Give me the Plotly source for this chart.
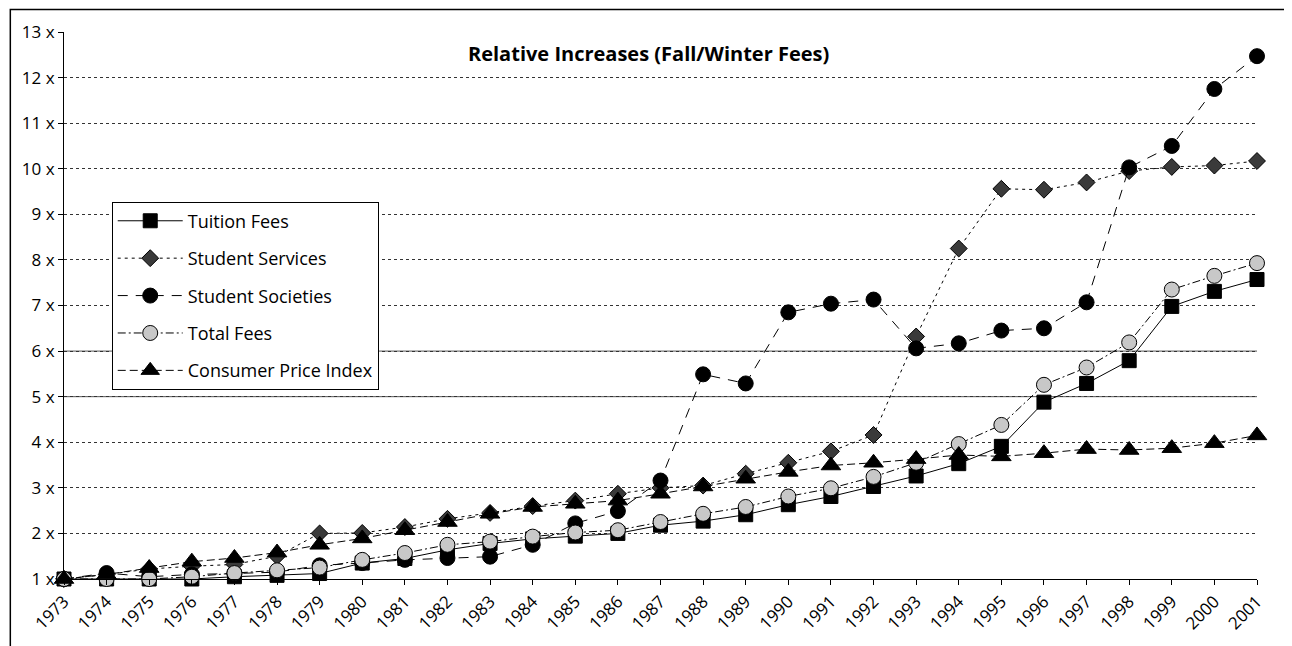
import plotly.graph_objects as go

years = list(range(1973, 2002))

tuition_fees = [1.00, 1.00, 1.00, 1.00, 1.05, 1.08, 1.12, 1.35, 1.45, 1.64,
                1.78, 1.88, 1.94, 2.00, 2.18, 2.27, 2.41, 2.63, 2.81, 3.03,
                3.26, 3.53, 3.91, 4.88, 5.29, 5.79, 6.98, 7.31, 7.57]
student_services = [1.00, 1.10, 1.22, 1.28, 1.32, 1.50, 2.00, 2.01, 2.14, 2.32,
                    2.45, 2.60, 2.72, 2.87, 3.00, 3.05, 3.31, 3.55, 3.80, 4.16,
                    6.32, 8.25, 9.56, 9.54, 9.70, 9.95, 10.04, 10.07, 10.17]
student_societies = [1.00, 1.13, 1.05, 1.10, 1.12, 1.15, 1.30, 1.35, 1.42, 1.46,
                     1.49, 1.75, 2.22, 2.49, 3.16, 5.49, 5.29, 6.85, 7.04, 7.13,
                     6.06, 6.17, 6.45, 6.50, 7.07, 10.03, 10.50, 11.75, 12.47]
total_fees = [1.00, 1.00, 1.00, 1.05, 1.13, 1.19, 1.25, 1.42, 1.57, 1.75,
              1.82, 1.93, 2.02, 2.07, 2.25, 2.43, 2.58, 2.81, 2.99, 3.24,
              3.55, 3.96, 4.38, 5.26, 5.64, 6.19, 7.35, 7.65, 7.93]
cpi = [1.00, 1.10, 1.24, 1.38, 1.46, 1.58, 1.75, 1.89, 2.07, 2.25,
       2.43, 2.58, 2.65, 2.72, 2.87, 3.03, 3.20, 3.35, 3.49, 3.55,
       3.63, 3.72, 3.69, 3.76, 3.85, 3.83, 3.87, 3.98, 4.15]

y_ticks = list(range(1, 14))
y_labels = [f"{v} x" for v in y_ticks]

FONT = "Open Sans"

series = [
    ("Tuition Fees", tuition_fees, "solid", "square", 14, "black"),
    ("Student Services", student_services, "3px,4px", "diamond", 13, "#3a3a3a"),
    ("Student Societies", student_societies, "10px,8px", "circle", 15, "black"),
    ("Total Fees", total_fees, "8px,3px,2px,3px", "circle", 15, "#c8c8c8"),
    ("Consumer Price Index", cpi, "8px,4px", "triangle-up", 17, "black"),
]

fig = go.Figure()
for i, (name, vals, dash, symbol, size, fill) in enumerate(series):
    fig.add_trace(go.Scatter(
        x=years, y=vals, name=name, mode="lines+markers",
        line=dict(color="black", width=1, dash=dash),
        marker=dict(symbol=symbol, size=size, color=fill,
                    line=dict(color="black", width=1)),
        legendgroup=f"g{i}", cliponaxis=False,
    ))

fig.update_xaxes(
    range=[1973, 2001], tickvals=years, tickangle=-45,
    showgrid=False, showline=True, linecolor="black", linewidth=1,
    ticks="outside", ticklen=5, tickcolor="black",
    tickfont=dict(family=FONT, size=17, color="#000000"),
)
fig.update_yaxes(
    range=[1, 13], tickvals=y_ticks, ticktext=y_labels,
    showgrid=True, gridcolor="#333", gridwidth=1, griddash="dot",
    showline=True, linecolor="black", linewidth=1,
    ticks="outside", ticklen=5, tickcolor="black",
    tickfont=dict(family=FONT, size=17, color="#000000"),
    zeroline=False,
)

# the 5x and 6x rules print solid in the original
for v in (5, 6):
    fig.add_shape(type="line", xref="paper", yref="y", x0=0, x1=1, y0=v, y1=v,
                  line=dict(color="#555", width=1), layer="below")

# outer frame
fig.add_shape(type="rect", xref="paper", yref="paper",
              x0=-0.045, x1=1.029, y0=-0.2, y1=1.041,
              line=dict(color="black", width=1.5))

fig.add_annotation(
    text="<b>Relative Increases (Fall/Winter Fees)</b>",
    xref="paper", yref="paper", x=0.49, y=0.96, yanchor="middle",
    showarrow=False,
    font=dict(family=FONT, size=20, color="black"),
)

# page body adds an 8px margin, so the figure is offset to compensate
fig.update_layout(
    width=1284, height=638,
    margin=dict(l=56, r=35, t=21, b=64),
    paper_bgcolor="white", plot_bgcolor="white",
    font=dict(family=FONT, color="black"),
    legend=dict(
        x=0.04, y=0.69, xanchor="left", yanchor="top",
        bgcolor="white", bordercolor="black", borderwidth=1,
        font=dict(family=FONT, size=18, color="black"),
        itemwidth=65, tracegroupgap=11,
    ),
)

fig.write_html("out.html")
